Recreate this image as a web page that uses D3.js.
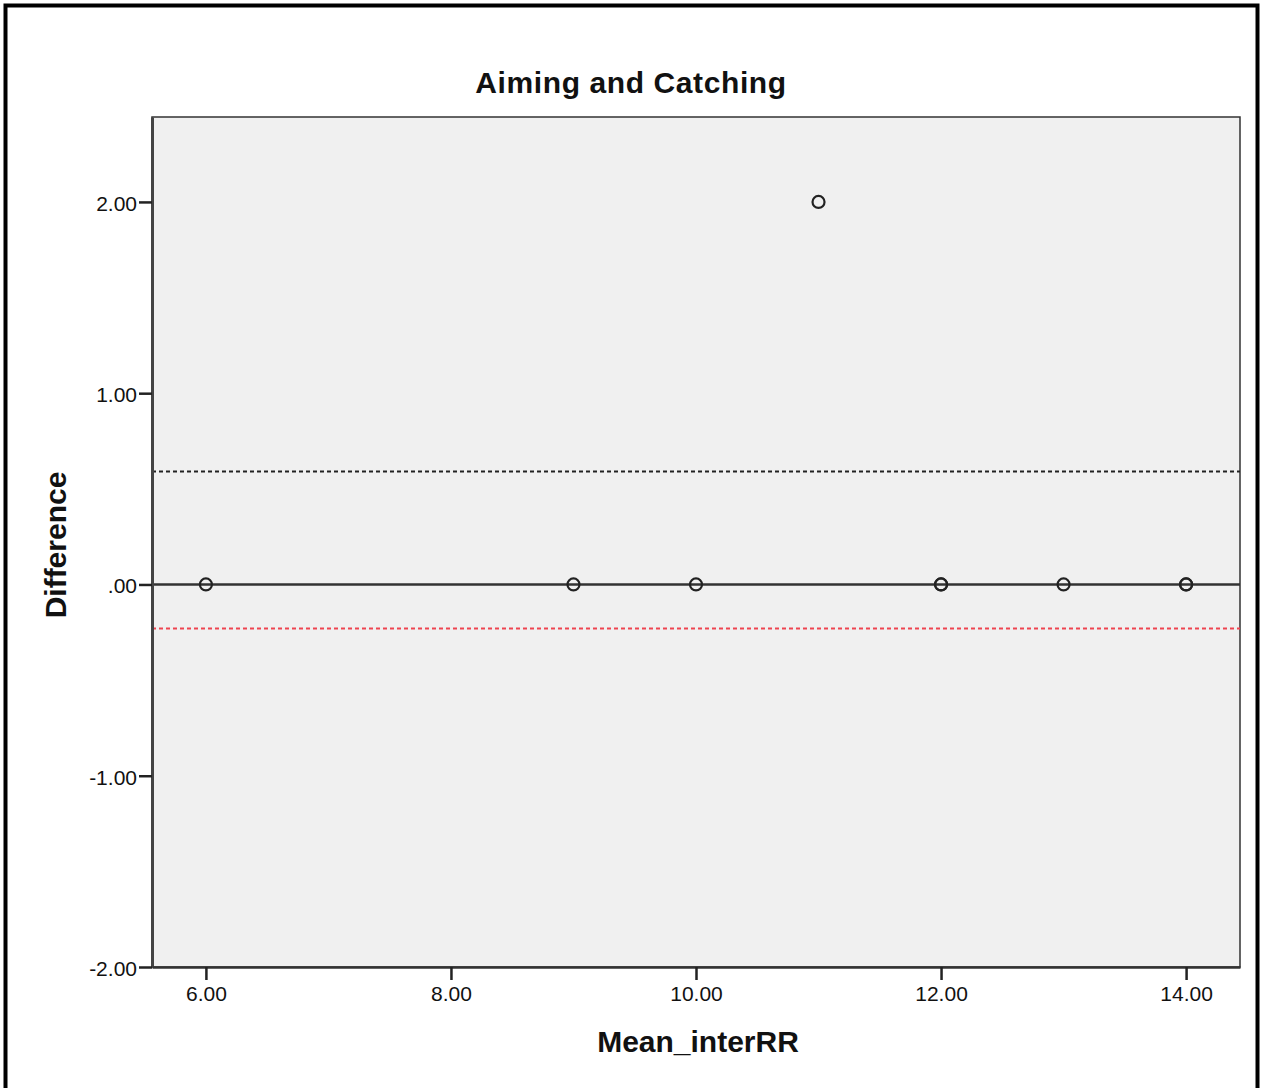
<!DOCTYPE html>
<html><head><meta charset="utf-8">
<script src="https://cdn.jsdelivr.net/npm/d3@7"></script>
<style>body{margin:0;background:#fff;}svg{display:block;}</style>
</head><body>
<svg id="chart" width="1265" height="1088"></svg>
<script>
const meanValues = [6, 9, 10, 11, 12, 12, 13, 14, 14];
const differences = [0, 0, 0, 2, 0, 0, 0, 0, 0];
const xTicks = [6, 8, 10, 12, 14];
const yTicks = [-2, -1, 0, 1, 2];
const refLines = [
  {value: 0, color: "#333", dash: null},
  {value: 0.59, color: "#222", dash: "4,3"},
  {value: -0.23, color: "#ee4450", dash: "4,3"}
];
const title = "Aiming and Catching";
const xLabel = "Mean_interRR";
const yLabel = "Difference";

const FONT = "Arial, 'Liberation Sans', sans-serif";
const svg = d3.select("#chart");
const L = 152, R = 1240, T = 117, B = 967;
const x = d3.scaleLinear().domain([5.56, 14.44]).range([L, R]);
const y = d3.scaleLinear().domain([-2, 2.444]).range([B, T]);

// outer frame
svg.append("rect").attr("x", 5.5).attr("y", 5.5).attr("width", 1252).attr("height", 1100)
  .attr("fill", "#fff").attr("stroke", "#000").attr("stroke-width", 4);

// plot background
svg.append("rect").attr("x", L).attr("y", T).attr("width", R - L).attr("height", B - T)
  .attr("fill", "#f0f0f0").attr("stroke", "#333").attr("stroke-width", 1.5);

// ref lines
refLines.forEach(r => {
  const ln = svg.append("line").attr("x1", L).attr("x2", R)
    .attr("y1", y(r.value)).attr("y2", y(r.value))
    .attr("stroke", r.color).attr("stroke-width", r.dash ? 2 : 2.5);
  if (r.dash) ln.attr("stroke-dasharray", r.dash);
});

// axes
const fmt2 = d3.format(".2f");
const fmtY = d => d === 0 ? ".00" : (d < 0 ? "-" + fmt2(-d) : fmt2(d));
const yAxis = d3.axisLeft(y).tickValues(yTicks).tickFormat(fmtY).tickSize(13).tickSizeOuter(0).tickPadding(2);
const gy = svg.append("g").attr("transform", `translate(${L},0)`).call(yAxis);
gy.select(".domain").attr("stroke", "#444").attr("stroke-width", 3);
gy.selectAll(".tick line").attr("stroke", "#222").attr("stroke-width", 2.5);
gy.selectAll("text").attr("font-family", FONT).attr("font-size", 21).attr("fill", "#111").attr("dy", "0.4em");

const xAxis = d3.axisBottom(x).tickValues(xTicks).tickFormat(fmt2).tickSize(13).tickSizeOuter(0).tickPadding(6);
const gx = svg.append("g").attr("transform", `translate(0,${B})`).call(xAxis);
gx.select(".domain").attr("stroke", "#333").attr("stroke-width", 2.5);
gx.selectAll(".tick line").attr("stroke", "#222").attr("stroke-width", 2.5);
gx.selectAll("text").attr("font-family", FONT).attr("font-size", 21).attr("fill", "#111");

// points
svg.append("g").selectAll("circle").data(meanValues.map((m, i) => [m, differences[i]]))
  .join("circle").attr("cx", d => x(d[0])).attr("cy", d => y(d[1])).attr("r", 6)
  .attr("fill", "none").attr("stroke", "#222").attr("stroke-width", 2.2);

// titles
svg.append("text").attr("x", 631).attr("y", 93).attr("text-anchor", "middle")
  .attr("font-family", FONT).attr("font-weight", "bold").attr("letter-spacing", 0.6)
  .attr("font-size", 30).attr("fill", "#111").text(title);
svg.append("text").attr("x", 698).attr("y", 1052).attr("text-anchor", "middle")
  .attr("font-family", FONT).attr("font-weight", "bold")
  .attr("font-size", 30).attr("fill", "#111").text(xLabel);
svg.append("text").attr("transform", "translate(66,545) rotate(-90)").attr("text-anchor", "middle")
  .attr("font-family", FONT).attr("font-weight", "bold")
  .attr("font-size", 30).attr("fill", "#111").text(yLabel);
</script>
</body></html>
